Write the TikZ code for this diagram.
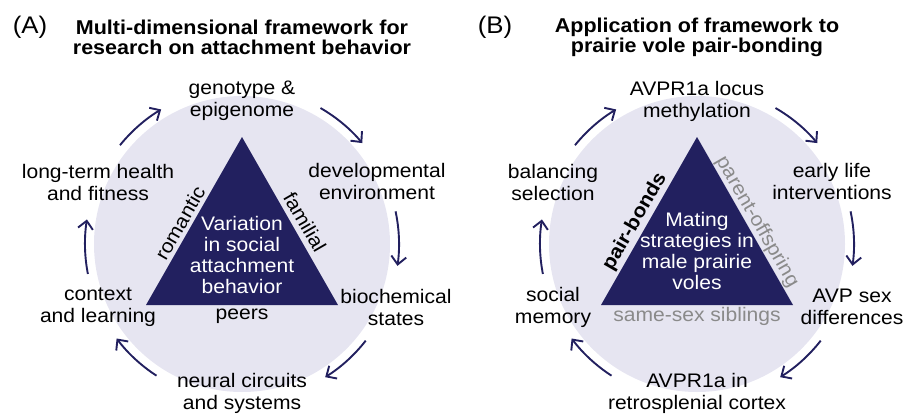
\documentclass[tikz,border=0pt]{standalone}
\usepackage{fontspec}
\setmainfont{Liberation Sans}[FakeStretch=1.075]
\usetikzlibrary{arrows.meta}
\definecolor{navy}{HTML}{22205F}
\definecolor{bgc}{HTML}{E6E5F1}
\definecolor{grayt}{HTML}{8A8A8A}
\tikzset{
  lbl/.style={font=\fontsize{19.6}{22}\selectfont, align=center, inner sep=0pt, text=black},
  inlbl/.style={font=\fontsize{19.6}{21.3}\selectfont, align=center, inner sep=0pt, text=white},
  ttl/.style={font=\bfseries\fontsize{20}{20}\selectfont, align=center, inner sep=0pt},
  plbl/.style={font=\fontsize{24}{24}\selectfont, inner sep=0pt},
  cyc/.style={draw=navy, line width=1.9pt, -{Straight Barb[length=8pt,width=15pt]}},
  tri/.style={fill=navy},
  disc/.style={fill=bgc}
}
\begin{document}
\begin{tikzpicture}[x=1pt,y=1pt]
\useasboundingbox (0,0) rectangle (914,-413);
% ---------- Panel A ----------
\coordinate (cA) at (242,-244);
\fill[disc] (cA) circle[radius=148];
\coordinate (tA1) at (242,-137);
\coordinate (tA2) at (146,-305);
\coordinate (tA3) at (338,-305);
\fill[tri] (tA1) -- (tA2) -- (tA3) -- cycle;
\node[plbl] (pA) at (30,-27) {(A)};
\node[ttl] (ttlA) at (242,-37) {Multi-dimensional framework for\\research on attachment behavior};
\node[lbl] (a1) at (242,-101) {genotype \&\\epigenome};
\node[lbl] (a2) at (377,-181) {developmental\\environment};
\node[lbl] (a3) at (396,-307) {biochemical\\states};
\node[lbl] (a4) at (242,-393) {neural circuits\\and systems};
\node[lbl] (a5) at (98,-307) {context\\and learning};
\node[lbl] (a6) at (98,-182) {long-term health\\and fitness};
\node[inlbl] (ac) at (242,-255) {Variation\\in social\\attachment\\behavior};
\node[lbl, rotate=60] (rom) at (180,-223) {romantic};
\node[lbl, rotate=-60] (fam) at (305,-222) {familial};
\node[lbl] (peers) at (242,-316) {peers};
\draw[cyc] ([shift={(141:157)}]cA) arc[start angle=141, end angle=121, radius=157];
\draw[cyc] ([shift={(60:157)}]cA) arc[start angle=60, end angle=40, radius=157];
\draw[cyc] ([shift={(12:157)}]cA) arc[start angle=12, end angle=-8, radius=157];
\draw[cyc] ([shift={(-38:157)}]cA) arc[start angle=-38, end angle=-58, radius=157];
\draw[cyc] ([shift={(-123:157)}]cA) arc[start angle=-123, end angle=-143, radius=157];
\draw[cyc] ([shift={(-169:157)}]cA) arc[start angle=-169, end angle=-189, radius=157];
% ---------- Panel B ----------
\coordinate (cB) at (697,-244);
\fill[disc] (cB) circle[radius=148];
\coordinate (tB1) at (697,-137);
\coordinate (tB2) at (601,-305);
\coordinate (tB3) at (793,-305);
\fill[tri] (tB1) -- (tB2) -- (tB3) -- cycle;
\node[plbl] (pB) at (495,-27) {(B)};
\node[ttl] (ttlB) at (697,-37) {Application of framework to\\prairie vole pair-bonding};
\node[lbl] (b1) at (697,-101) {AVPR1a locus\\methylation};
\node[lbl] (b2) at (832,-181) {early life\\interventions};
\node[lbl] (b3) at (852,-307) {AVP sex\\differences};
\node[lbl] (b4) at (697,-393) {AVPR1a in\\retrosplenial cortex};
\node[lbl] (b5) at (553,-307) {social\\memory};
\node[lbl] (b6) at (553,-182) {balancing\\selection};
\node[inlbl] (bc) at (697,-251) {Mating\\strategies in\\male prairie\\voles};
\node[lbl, font=\bfseries\fontsize{19.6}{22}\selectfont, rotate=60] (pb) at (635,-222) {pair-bonds};
\node[lbl, text=grayt, rotate=-60] (po) at (757,-222) {parent-offspring};
\node[lbl, text=grayt] (ss) at (697,-316) {same-sex siblings};
\draw[cyc] ([shift={(141:157)}]cB) arc[start angle=141, end angle=121, radius=157];
\draw[cyc] ([shift={(60:157)}]cB) arc[start angle=60, end angle=40, radius=157];
\draw[cyc] ([shift={(12:157)}]cB) arc[start angle=12, end angle=-8, radius=157];
\draw[cyc] ([shift={(-38:157)}]cB) arc[start angle=-38, end angle=-58, radius=157];
\draw[cyc] ([shift={(-123:157)}]cB) arc[start angle=-123, end angle=-143, radius=157];
\draw[cyc] ([shift={(-169:157)}]cB) arc[start angle=-169, end angle=-189, radius=157];
\end{tikzpicture}
\end{document}
